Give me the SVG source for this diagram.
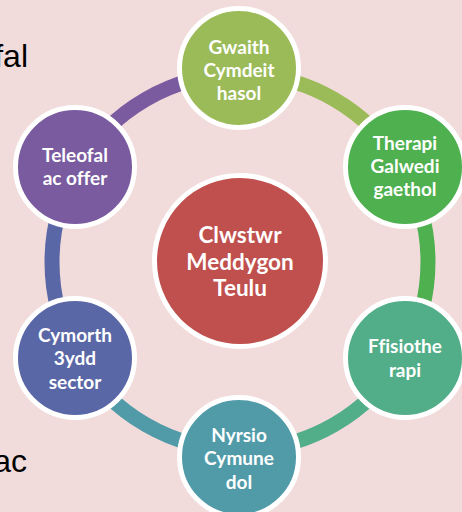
<svg xmlns="http://www.w3.org/2000/svg" width="462" height="512" viewBox="0 0 462 512">
<style>
.bg{fill:#F2DCDB}
.arc{fill:none;stroke-width:15}
.node{stroke:#fff;stroke-width:5}
.lbl{font-family:Lato,"Open Sans","Liberation Sans",sans-serif;font-weight:bold;fill:#fff;text-anchor:middle;font-size:19px;font-variant-ligatures:none}
.ctr{font-size:22.5px}
.side{font-family:"Liberation Sans",Arial,sans-serif;font-size:32px;fill:#000;text-anchor:end}
</style>
<rect class="bg" x="0" y="0" width="462" height="512"/>
<text class="side" x="28" y="67">fal</text>
<text class="side" x="27" y="472">ac</text>
<g id="connectors">
<path class="arc" stroke="#9BBB59" d="M240 74 A188 188 0 0 1 402.8 168"/>
<path class="arc" stroke="#4FB04F" d="M402.8 168 A188 188 0 0 1 402.8 356"/>
<path class="arc" stroke="#52AE88" d="M402.8 356 A188 188 0 0 1 240 450"/>
<path class="arc" stroke="#519BA9" d="M240 450 A188 188 0 0 1 77.2 356"/>
<path class="arc" stroke="#5A67A6" d="M77.2 356 A188 188 0 0 1 77.2 168"/>
<path class="arc" stroke="#7A5BA0" d="M77.2 168 A188 188 0 0 1 240 74"/>
</g>
<g id="center">
<circle class="node" cx="240" cy="261" r="85.5" fill="#C0504D"/>
<text class="lbl ctr" x="240" y="243">Clwstwr</text>
<text class="lbl ctr" x="240" y="270">Meddygon</text>
<text class="lbl ctr" x="240" y="296">Teulu</text>
</g>
<g id="gwaith">
<circle class="node" cx="239" cy="68" r="59.5" fill="#9BBB59"/>
<text class="lbl" x="239" y="54">Gwaith</text>
<text class="lbl" x="239" y="77">Cymdeit</text>
<text class="lbl" x="239" y="100">hasol</text>
</g>
<g id="therapi">
<circle class="node" cx="405" cy="167" r="59.5" fill="#4FB04F"/>
<text class="lbl" x="405" y="150">Therapi</text>
<text class="lbl" x="405" y="173">Galwedi</text>
<text class="lbl" x="405" y="196">gaethol</text>
</g>
<g id="ffisiothe">
<circle class="node" cx="405" cy="358" r="59.5" fill="#52AE88"/>
<text class="lbl" x="405" y="353">Ffisiothe</text>
<text class="lbl" x="405" y="377">rapi</text>
</g>
<g id="nyrsio">
<circle class="node" cx="239" cy="457" r="59.5" fill="#519BA9"/>
<text class="lbl" x="239" y="442">Nyrsio</text>
<text class="lbl" x="239" y="465">Cymune</text>
<text class="lbl" x="239" y="489">dol</text>
</g>
<g id="cymorth">
<circle class="node" cx="75" cy="358" r="59.5" fill="#5A67A6"/>
<text class="lbl" x="75" y="342">Cymorth</text>
<text class="lbl" x="75" y="365">3ydd</text>
<text class="lbl" x="75" y="389">sector</text>
</g>
<g id="teleofal">
<circle class="node" cx="75" cy="167" r="59.5" fill="#7A5BA0"/>
<text class="lbl" x="75" y="162">Teleofal</text>
<text class="lbl" x="75" y="185">ac offer</text>
</g>
</svg>
